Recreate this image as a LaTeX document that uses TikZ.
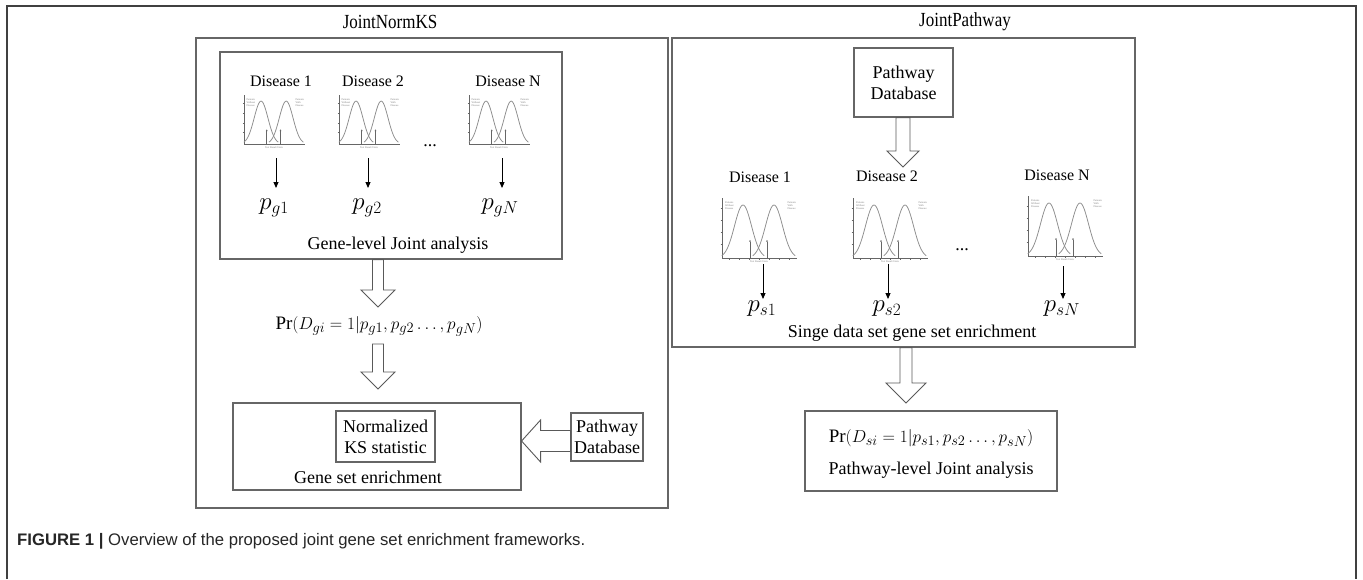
\documentclass[tikz,border=0pt]{standalone}
\usepackage{fontspec}
\setmainfont{Liberation Serif}
\setsansfont{Liberation Sans}
\newfontfamily\condfont[FakeStretch=0.85]{Liberation Serif}
\usetikzlibrary{calc,arrows.meta}
\newcommand{\hollowdown}[5]{% start, tip, half shaft, half head, head length
  \draw[hollow] ($(#1)+(-#3,0)$) -- ($(#2)+(-#3,-#5)$) -- ($(#2)+(-#4,-#5)$) -- (#2)
    -- ($(#2)+(#4,-#5)$) -- ($(#2)+(#3,-#5)$) -- ($(#1)+(#3,0)$) -- cycle;}
\newcommand{\hollowleft}[5]{%
  \draw[hollow] ($(#1)+(0,-#3)$) -- ($(#2)+(#5,-#3)$) -- ($(#2)+(#5,-#4)$) -- (#2)
    -- ($(#2)+(#5,#4)$) -- ($(#2)+(#5,#3)$) -- ($(#1)+(0,#3)$) -- cycle;}
\tikzset{
  x=1pt, y=-1pt,
  frame/.style={draw=black!75, line width=1.4pt},
  panel/.style={draw=black!60, line width=1.1pt, inner sep=0pt},
  hollow/.style={draw=black!65, line width=0.9pt, line join=miter},
  thinarrow/.style={draw=black, line width=0.9pt, -{Triangle[length=6pt,width=5pt]}},
  txt/.style={font=\fontsize{18}{21}\selectfont, inner sep=1pt},
  dis/.style={font=\fontsize{16}{18}\selectfont, inner sep=1pt},
  ttl/.style={font=\condfont\fontsize{20}{22}\selectfont, inner sep=1pt},
  pval/.style={font=\fontsize{25}{28}\selectfont, inner sep=1pt},
  frm/.style={font=\fontsize{19}{22}\selectfont, inner sep=1pt},
  plotax/.style={draw=black!60, line width=0.5pt},
  plotcurve/.style={draw=black!45, line width=0.75pt},
  tinytext/.style={font=\fontsize{2.6}{2.8}\selectfont, text=black!50, align=left, inner sep=0pt},
  pics/distplot/.style={code={
    \draw[plotax] (5,3) -- (5,63) -- (80,63);
    \foreach \yy in {13,25,37,49} \draw[plotax] (3.5,\yy) -- (5,\yy);
    \foreach \xx in {12,22,...,72} \draw[plotax] (\xx,63) -- (\xx,64.5);
    \draw[plotcurve] plot[domain=-2.5:2.5,samples=41,smooth] ({26+8.5*\x},{63-53*exp(-0.5*(\x)*(\x))});
    \draw[plotcurve] plot[domain=-2.5:2.5,samples=41,smooth] ({57+8.5*\x},{63-53*exp(-0.5*(\x)*(\x))});
    \draw[plotax,-{Triangle[length=1.6pt,width=1.6pt]}] (33,63) -- (33,45);
    \draw[plotax,-{Triangle[length=1.6pt,width=1.6pt]}] (50,63) -- (50,45);
    \node[tinytext,anchor=north west] (-lw) at (8,7) {Patients\\Without\\Disease};
    \node[tinytext,anchor=north east] (-ld) at (79,7) {Patients\\With\\Disease};
    \node[tinytext,anchor=north] (-xl) at (42,65.5) {Test Result Units};
  }}
}
\begin{document}
\begin{tikzpicture}
\useasboundingbox (0,0) rectangle (1363,579);
\fill[white] (0,0) rectangle (1363,579);
% outer frame
\draw[frame] (7,579) -- (7,6) -- (1356,6) -- (1356,579);
% titles
\node[ttl] (t1) at (390,22) {JointNormKS};
\node[ttl] (t2) at (965,22) {JointPathway};
% ---------------- left panel
\node[panel, minimum width=472pt, minimum height=470pt] (lp) at (432,273) {};
\node[panel, minimum width=342pt, minimum height=207pt] (gl) at (391,155.5) {};
\node[dis] (d1) at (281,81) {Disease 1};
\node[dis] (d2) at (373,81) {Disease 2};
\node[dis] (dN) at (508,81) {Disease N};
\pic[scale=0.81] (pl1) at (240,93) {distplot};
\pic[scale=0.81] (pl2) at (335,93) {distplot};
\pic[scale=0.81] (plN) at (465,93) {distplot};
\node[txt] (dotsl) at (430,146) {...};
\coordinate (g1s) at (276,158); \coordinate (g1e) at (276,188);
\coordinate (g2s) at (368,158); \coordinate (g2e) at (368,188);
\coordinate (gNs) at (502,158); \coordinate (gNe) at (502,188);
\draw[thinarrow] (g1s) -- (g1e);
\draw[thinarrow] (g2s) -- (g2e);
\draw[thinarrow] (gNs) -- (gNe);
\node[pval] (pg1) at (274,208) {$p_{g1}$};
\node[pval] (pg2) at (367,208) {$p_{g2}$};
\node[pval] (pgN) at (500,208) {$p_{gN}$};
\node[txt] (gltxt) at (398,245) {Gene-level Joint analysis};
\coordinate (a1s) at (gl.south -| 378,0);
\coordinate (a1t) at (378,307);
\hollowdown{a1s}{a1t}{5.5}{17}{17}
\node[frm] (prl) at (379,326) {$\Pr\bigl(D_{gi} = 1\big|p_{g1}, p_{g2} \ldots, p_{gN}\bigr)$};
\coordinate (a2s) at (378,344);
\coordinate (a2t) at (378,389);
\hollowdown{a2s}{a2t}{5.5}{17}{17}
\node[panel, minimum width=288pt, minimum height=87pt] (gse) at (377,446.5) {};
\node[panel, txt, align=center, minimum width=99pt, minimum height=51pt, inner sep=0pt] (ks) at (385.5,436.5) {Normalized\\KS statistic};
\node[txt] (gsetxt) at (368,477) {Gene set enrichment};
\node[panel, txt, align=center, minimum width=72pt, minimum height=48pt, inner sep=0pt] (dbl) at (607,437) {Pathway\\Database};
\coordinate (a3s) at (dbl.west |- 0,441);
\coordinate (a3t) at (gse.east |- 0,441);
\hollowleft{a3s}{a3t}{10.5}{21}{19}
% ---------------- right panel
\node[panel, minimum width=463pt, minimum height=309pt] (rp) at (903.5,192.5) {};
\node[panel, txt, align=center, minimum width=99pt, minimum height=69pt, inner sep=0pt] (dbr) at (903.5,82.5) {Pathway\\Database};
\coordinate (a4s) at (dbr.south -| 903,0);
\coordinate (a4t) at (903,167);
\hollowdown{a4s}{a4t}{7}{16}{16}
\node[dis] (e1) at (760,177) {Disease 1};
\node[dis] (e2) at (887,176) {Disease 2};
\node[dis] (eN) at (1057,175) {Disease N};
\pic (pr1) at (717,195) {distplot};
\pic (pr2) at (848,195) {distplot};
\pic (prN) at (1023,193) {distplot};
\node[txt] (dotsr) at (962,250) {...};
\coordinate (s1s) at (763,264); \coordinate (s1e) at (763,299);
\coordinate (s2s) at (888,264); \coordinate (s2e) at (888,299);
\coordinate (sNs) at (1063,266); \coordinate (sNe) at (1063,299);
\draw[thinarrow] (s1s) -- (s1e);
\draw[thinarrow] (s2s) -- (s2e);
\draw[thinarrow] (sNs) -- (sNe);
\node[pval] (ps1) at (762,309) {$p_{s1}$};
\node[pval] (ps2) at (887,309) {$p_{s2}$};
\node[pval] (psN) at (1062,309) {$p_{sN}$};
\node[txt] (rptxt) at (912,333) {Singe data set gene set enrichment};
\coordinate (a5s) at (rp.south -| 906,0);
\coordinate (a5t) at (906,403);
\hollowdown{a5s}{a5t}{6}{20}{20}
\node[panel, minimum width=252pt, minimum height=80pt] (prb) at (931,451) {};
\node[frm] (prr) at (931,438) {$\Pr(D_{si} = 1|p_{s1}, p_{s2} \ldots, p_{sN})$};
\node[txt] (prrtxt) at (931,470) {Pathway-level Joint analysis};
% caption
\node[anchor=west, font=\sffamily\fontsize{16.7}{19}\selectfont, inner sep=0pt, text=black!85] (cap) at (17,541)
  {\textbf{FIGURE 1 |} Overview of the proposed joint gene set enrichment frameworks.};
\end{tikzpicture}
\end{document}
